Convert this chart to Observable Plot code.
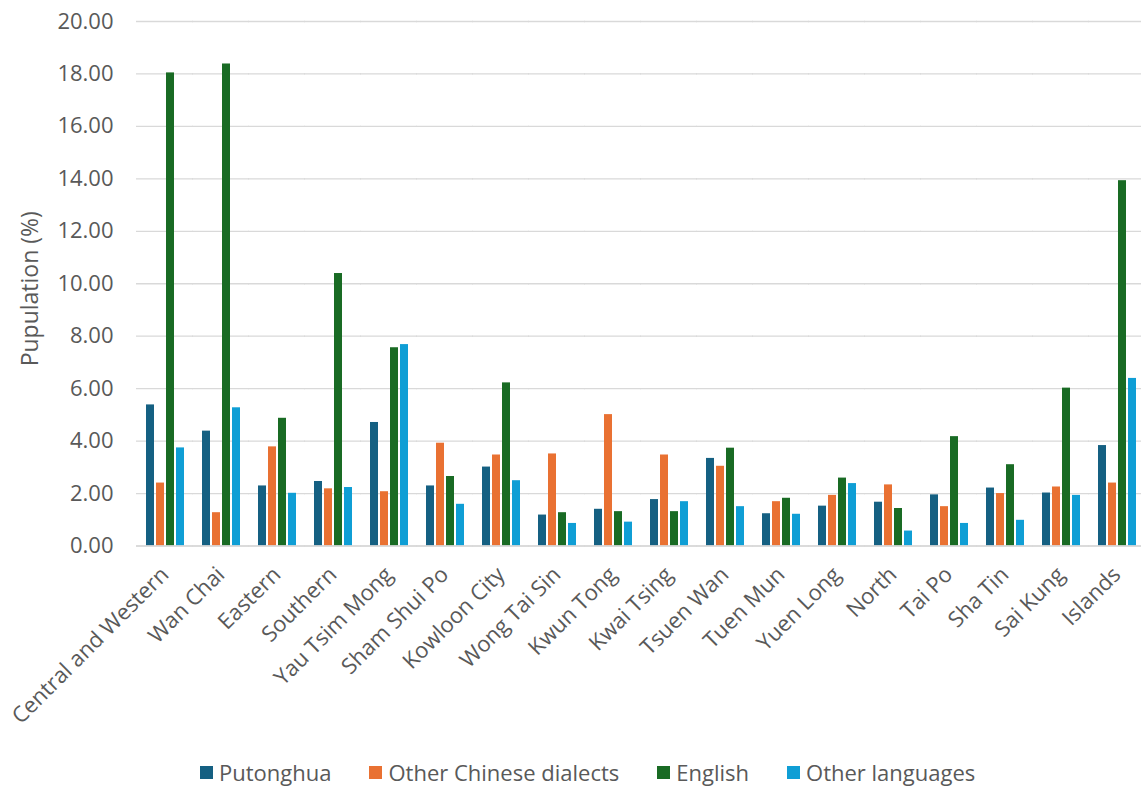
<!DOCTYPE html>
<html>
<head>
<meta charset="utf-8">
<script src="https://cdn.jsdelivr.net/npm/d3@7"></script>
<script src="https://cdn.jsdelivr.net/npm/@observablehq/plot@0.6"></script>
<style>
  html, body { margin: 0; padding: 0; background: #fff; overflow: hidden; }
  #chart { width: 1141px; }
  #chart svg { display: block; }
  #chart g[aria-label="y-axis tick label"] { font-size: 22px !important; }
  #chart g[aria-label="text"] { font-size: 23px !important; }
  .lg-swatches { font-family: "Open Sans", sans-serif; font-size: 22px; color: #595959;
    display: flex !important; justify-content: flex-start; padding-left: 200px; margin: 0 !important; min-height: 0 !important; }
  .lg-swatch { margin-right: 38px !important; align-items: center; }
  .lg-swatch svg { margin-right: 6px !important; }
</style>
</head>
<body>
<div id="chart"></div>
<script>
// Share of population speaking each language as usual/other language, by district (%)
const districts = ["Central and Western", "Wan Chai", "Eastern", "Southern", "Yau Tsim Mong",
  "Sham Shui Po", "Kowloon City", "Wong Tai Sin", "Kwun Tong", "Kwai Tsing", "Tsuen Wan",
  "Tuen Mun", "Yuen Long", "North", "Tai Po", "Sha Tin", "Sai Kung", "Islands"];
const languages = ["Putonghua", "Other Chinese dialects", "English", "Other languages"];
const putonghua    = [5.38, 4.38, 2.29, 2.46, 4.71, 2.29, 3.01, 1.18, 1.40, 1.77, 3.34, 1.23, 1.52, 1.67, 1.95, 2.21, 2.02, 3.83];
const otherChinese = [2.40, 1.27, 3.78, 2.18, 2.07, 3.92, 3.47, 3.51, 5.01, 3.47, 3.04, 1.69, 1.93, 2.33, 1.50, 2.00, 2.25, 2.40];
const english      = [18.04, 18.38, 4.87, 10.39, 7.56, 2.65, 6.22, 1.27, 1.31, 1.31, 3.73, 1.82, 2.59, 1.43, 4.17, 3.10, 6.02, 13.93];
const otherLangs   = [3.74, 5.27, 2.01, 2.23, 7.68, 1.59, 2.49, 0.86, 0.91, 1.69, 1.50, 1.21, 2.38, 0.57, 0.86, 0.98, 1.93, 6.39];
const yTicks = [0, 2, 4, 6, 8, 10, 12, 14, 16, 18, 20];
const colors = ["#156082", "#E97132", "#196B24", "#0F9ED5"];

const series = [putonghua, otherChinese, english, otherLangs];
const rows = districts.flatMap((d, i) =>
  languages.map((lang, j) => ({district: d, language: lang, value: series[j][i]})));

const font = "'Open Sans', sans-serif";
const textColor = "#595959";
const H = 750;

const chart = Plot.plot({
  width: 1141,
  height: H,
  marginTop: 21,
  marginBottom: H - 545.5,
  marginLeft: 133,
  marginRight: -6,
  style: {fontFamily: font, color: textColor, background: "#fff"},
  fx: {domain: districts, paddingInner: 0.31, paddingOuter: 0.155, label: null},
  x: {domain: languages, paddingInner: 0.2, paddingOuter: 0, axis: null},
  y: {domain: [0, 20], label: null},
  color: {domain: languages, range: colors},
  marks: [
    // gridlines run continuously across the group gaps
    Plot.gridY(yTicks, {stroke: "#D9D9D9", strokeOpacity: 1, strokeWidth: 1.3,
      insetLeft: -9, insetRight: -9}),
    Plot.axisY({ticks: yTicks, tickFormat: d3.format(".2f"), tickSize: 0, tickPadding: 32,
      fontSize: 22, fill: textColor, label: null}),
    Plot.barY(rows, {fx: "district", x: "language", y: "value", fill: "language"}),
    Plot.ruleY([0], {stroke: "#D9D9D9", strokeWidth: 1.3, insetLeft: -9, insetRight: -9}),
    Plot.axisFx({anchor: "bottom", tickRotate: -45, tickSize: 0, tickPadding: 25,
      fontSize: 22, fill: textColor, label: null}),
    Plot.text(["Pupulation (%)"], {frameAnchor: "left", textAnchor: "middle", rotate: -90,
      dx: -115, dy: 5, fontSize: 23, fill: textColor, facetAnchor: "left"})
  ]
});

const legend = Plot.legend({
  legend: "swatches",
  color: {type: "ordinal", domain: languages, range: colors},
  className: "lg",
  swatchSize: 13,
  style: {fontFamily: font, fontSize: "22px", color: textColor}
});

const root = document.getElementById("chart");
root.appendChild(chart);
const wrap = document.createElement("div");
wrap.style.marginTop = "7px";
wrap.appendChild(legend);
root.appendChild(wrap);
</script>
</body>
</html>
